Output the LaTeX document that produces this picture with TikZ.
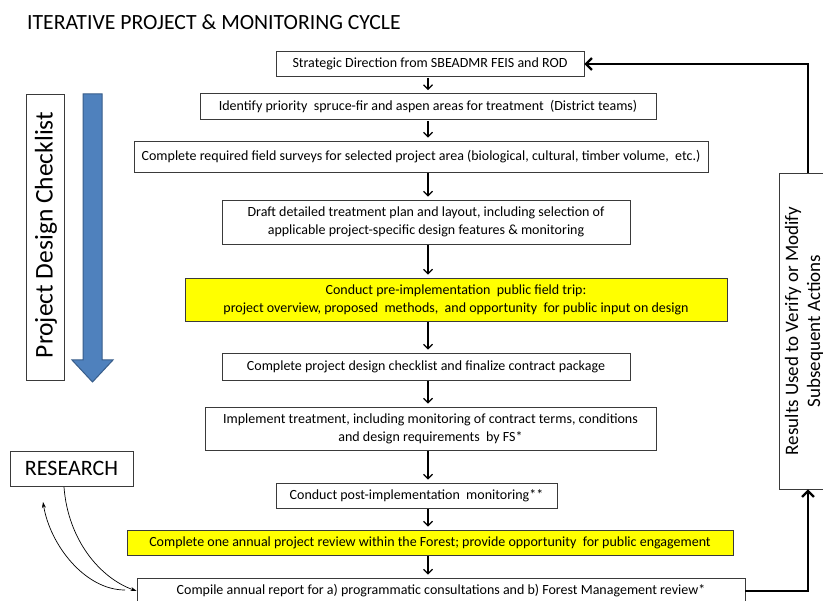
\documentclass[tikz,border=0pt]{standalone}
\usepackage{fontspec}
\setmainfont{Carlito}
\usetikzlibrary{arrows.meta}
\definecolor{bord}{HTML}{3A3A3A}
\definecolor{blu}{HTML}{4F81BD}
\definecolor{bluedge}{HTML}{385D8A}
\definecolor{ylw}{HTML}{FFFF00}
\begin{document}
\begin{tikzpicture}[x=1pt,y=-1pt,
  box/.style={draw=bord, line width=0.8pt, fill=white, align=center, inner sep=0pt,
    font=\fontsize{14}{18}\selectfont},
  ybox/.style={box, fill=ylw},
  flow/.style={-{Straight Barb[length=4.5pt,width=9pt,line width=1.2pt]}, line width=1.2pt, black,
    shorten <=1pt, shorten >=3pt},
  fb/.style={-{Straight Barb[length=6pt,width=12pt,line width=2.2pt]}, line width=2.4pt, black},
  thin/.style={-{Stealth[length=6pt,width=4pt]}, line width=0.7pt, black}]
\useasboundingbox (0,0) rectangle (823,601);
\clip (0,0) rectangle (823,601);
\fill[white] (0,0) rectangle (823,601);

\node[anchor=west, inner sep=0pt, font=\fontsize{21.7}{24}\selectfont] (title) at (27,22) {ITERATIVE PROJECT \& MONITORING CYCLE};

\node[box, minimum width=308, minimum height=25] (s1) at (430,64) {Strategic Direction from SBEADMR FEIS and ROD};
\node[box, minimum width=456, minimum height=26] (s2) at (428,106.5) {Identify priority\ \ spruce-fir and aspen areas for treatment\ \ (District teams)};
\node[box, minimum width=574, minimum height=31] (s3) at (421,156.5) {Complete required field surveys for selected project area (biological, cultural, timber volume,\ \ etc.)};
\node[box, minimum width=408, minimum height=44] (s4) at (426,222) {Draft detailed treatment plan and layout, including selection of\\applicable project-specific design features \& monitoring};
\node[ybox, minimum width=542, minimum height=43] (s5) at (456,299.5) {Conduct pre-implementation\ \ public field trip:\\project overview, proposed\ \ methods,\ \ and opportunity\ \ for public input on design};
\node[box, minimum width=408, minimum height=27] (s6) at (426,366.5) {Complete project design checklist and finalize contract package};
\node[box, minimum width=451, minimum height=43] (s7) at (430.5,428.5) {Implement treatment, including monitoring of contract terms, conditions\\and design requirements\ \ by FS*};
\node[box, minimum width=281, minimum height=25] (s8) at (416.5,495.5) {Conduct post-implementation\ \ monitoring**};
\node[ybox, minimum width=606, minimum height=25] (s9) at (430,542.5) {Complete one annual project review within the Forest; provide opportunity\ \ for public engagement};
\node[box, minimum width=608, minimum height=26] (s10) at (441,591) {Compile annual report for a) programmatic consultations and b) Forest Management review*};

\coordinate (ax) at (428,0);
\foreach \a/\b in {s1/s2,s2/s3,s3/s4,s4/s5,s5/s6,s6/s7,s7/s8,s8/s9,s9/s10}
  \draw[flow] (\a.south -| ax) -- (\b.north -| ax);

% Results box
\node[draw=bord, line width=0.8pt, fill=white, minimum width=58, minimum height=316, inner sep=0pt] (res) at (808,331) {};
\node[rotate=90, align=center, inner sep=0pt, font=\fontsize{19}{22}\selectfont] (restext) at (804,331) {Results Used to Verify or Modify\\Subsequent Actions};
\draw[fb] (s10.east) -| (res.south);
\draw[fb] (res.north) |- (s1.east);

% Project Design Checklist
\node[draw=bord, line width=0.8pt, fill=white, minimum width=38, minimum height=286, inner sep=0pt] (chk) at (45,237) {};
\node[rotate=90, inner sep=0pt, font=\fontsize{25.5}{28}\selectfont] (chktext) at (46,235) {Project Design Checklist};
\draw[bluedge, line width=1pt, fill=blu] (83,94) -- (102,94) -- (102,360) -- (113,360) -- (92.5,382) -- (72,360) -- (83,360) -- cycle;

% Research
\node[draw=bord, line width=0.8pt, fill=white, minimum width=123, minimum height=35, inner sep=0pt, font=\fontsize{22}{24}\selectfont] (res2) at (71.5,468.5) {RESEARCH};
\coordinate (c1) at (64,487);
\coordinate (c2) at (125,590);
\coordinate (c3) at (43,502);
\draw[thin] (c1) .. controls (68,540) and (100,578) .. (s10.west);
\draw[thin] (c2) .. controls (85,590) and (50,545) .. (c3);
\end{tikzpicture}
\end{document}
